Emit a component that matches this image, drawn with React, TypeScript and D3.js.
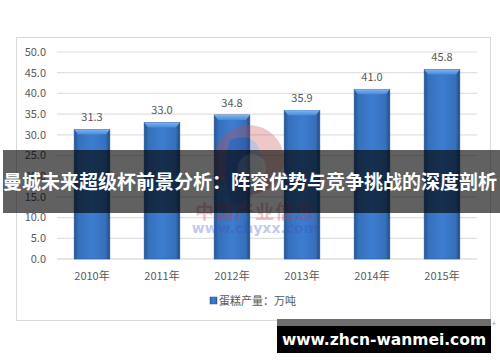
import React from "react";
import * as d3 from "d3";

const categories = ["2010年", "2011年", "2012年", "2013年", "2014年", "2015年"];
const values = [31.3, 33.0, 34.8, 35.9, 41.0, 45.8];
const yTicks = [0, 5, 10, 15, 20, 25, 30, 35, 40, 45, 50];
const seriesName = "蛋糕产量：万吨";
const title = "曼城未来超级杯前景分析：阵容优势与竞争挑战的深度剖析";
const siteText = "www.zhcn-wanmei.com";

const W = 500;
const H = 362;
const font = "'Noto Sans CJK SC', 'Noto Sans', sans-serif";

export default function App() {
  const x = d3.scaleBand<string>().domain(categories).range([57, 477]).paddingInner(0.49).paddingOuter(0.245);
  const y = d3.scaleLinear().domain([0, 50]).range([259, 52]);
  const bw = x.bandwidth();

  return (
    <svg width={W} height={H} style={{ position: "absolute", left: 0, top: 0, display: "block" }}>
      <defs>
        <linearGradient id="barG" x1="0" x2="1" y1="0" y2="0">
          <stop offset="0" stopColor="#24548f" />
          <stop offset="0.12" stopColor="#3670bb" />
          <stop offset="0.5" stopColor="#3d7dd0" />
          <stop offset="0.88" stopColor="#3670bb" />
          <stop offset="1" stopColor="#1f4a80" />
        </linearGradient>
        <linearGradient id="topG" x1="0" x2="0" y1="0" y2="1">
          <stop offset="0" stopColor="#7fb4f0" />
          <stop offset="1" stopColor="#4a8ad8" />
        </linearGradient>
      </defs>
      <rect x={0} y={0} width={W} height={H} fill="#ffffff" />
      <rect x={16.5} y={37.5} width={474} height={283} fill="#ffffff" stroke="#d9d9d9" strokeWidth={1} />

      {yTicks.map((t) => (
        <g key={t}>
          {t > 0 && <line x1={57} x2={477} y1={y(t)} y2={y(t)} stroke="#e0e0e0" strokeWidth={1.2} />}
          <text x={46} y={y(t)} dy="0.35em" textAnchor="end" fontSize={11} fill="#595959" fontFamily={font}>
            {t.toFixed(1)}
          </text>
        </g>
      ))}
      <line x1={57} x2={477} y1={y(0)} y2={y(0)} stroke="#d0d0d0" strokeWidth={1.2} />

      {categories.map((c, i) => {
        const bx = x(c)!;
        const by = y(values[i]);
        const bh = y(0) - by;
        return (
          <g key={c}>
            <rect x={bx} y={by} width={bw} height={bh} fill="url(#barG)" stroke="#2a5b99" strokeWidth={0.6} />
            <path
              d={`M${bx},${by} L${bx + bw},${by} L${bx + bw - 4},${by + 5} L${bx + 4},${by + 5} Z`}
              fill="url(#topG)"
            />
            <text x={bx + bw / 2} y={by - 8} textAnchor="middle" fontSize={11} fill="#595959" fontFamily={font}>
              {values[i].toFixed(1)}
            </text>
            <text x={bx + bw / 2} y={276} dy="0.35em" textAnchor="middle" fontSize={11} fill="#595959" fontFamily={font}>
              {c}
            </text>
          </g>
        );
      })}

      {/* watermark */}
      <g opacity={0.3}>
        <circle cx={249} cy={160} r={35} fill="#c8494d" />
        <path d="M 230 140 Q 262 128 262 168 Q 262 198 232 205 Q 220 175 230 140 Z" fill="#2e3f8e" />
        <circle cx={252} cy={168} r={14} fill="#ffffff" opacity={0.7} />
      </g>
      <text x={255} y={219} textAnchor="middle" fontSize={19} fontWeight="bold" fill="#c8383c" opacity={0.3} fontFamily={font} letterSpacing={1}>
        中国产业信息
      </text>
      <text x={255} y={233} textAnchor="middle" fontSize={14} fontWeight="bold" fill="#3a4fc0" opacity={0.3} fontFamily="'DejaVu Sans', sans-serif">
        www.chyxx.com
      </text>

      {/* legend */}
      <rect x={210} y={297} width={7} height={7} fill="url(#barG)" stroke="#2a5b99" strokeWidth={0.5} />
      <text x={219} y={301} dy="0.35em" fontSize={11} fill="#595959" fontFamily={font}>
        {seriesName}
      </text>

      {/* title banner */}
      <rect x={3} y={150} width={497} height={63} fill="#000000" opacity={0.62} />
      <text x={250} y={182} dy="0.35em" textAnchor="middle" fontSize={19} fontWeight="bold" fill="#ffffff" fontFamily={font}>
        {title}
      </text>

      {/* site banner */}
      <rect x={277} y={319} width={214} height={7} fill="#6e6e6e" />
      <rect x={277} y={326} width={214} height={27} fill="#000000" />
      <text x={384} y={340} dy="0.35em" textAnchor="middle" fontSize={15.5} fontWeight="bold" fill="#ffffff" fontFamily="'DejaVu Sans', 'Noto Sans', sans-serif">
        {siteText}
      </text>
      <text x={494} y={323} dy="0.35em" textAnchor="middle" fontSize={8} fill="#999999" fontFamily={font}>
        +
      </text>
    </svg>
  );
}
